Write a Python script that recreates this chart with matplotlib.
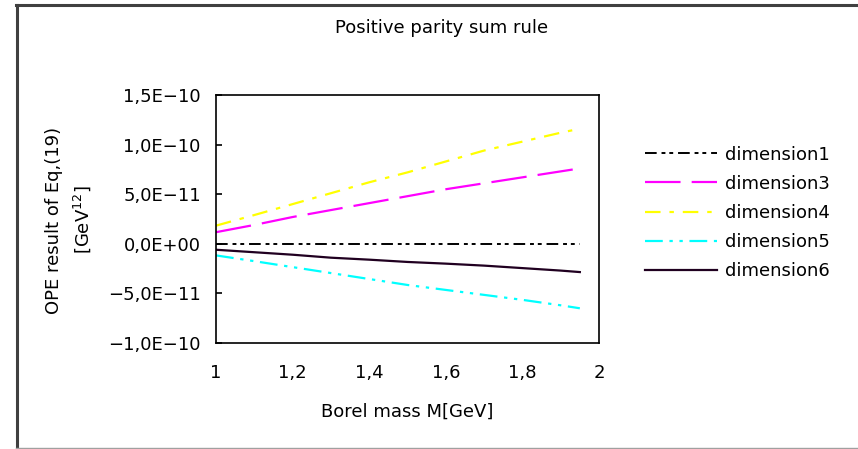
import numpy as np
import matplotlib
matplotlib.use("Agg")
import matplotlib.pyplot as plt
from matplotlib.lines import Line2D

# Borel mass [GeV]
borel_mass = [1.0, 1.1, 1.2, 1.3, 1.4, 1.5, 1.6, 1.7, 1.8, 1.9, 1.95]

# OPE contributions (in units of 1E-11 GeV^12)
dim1 = [0.0, 0.0, 0.0, 0.0, 0.0, 0.0, 0.0, 0.0, 0.0, 0.0, 0.0]
dim3 = [1.17, 1.9, 2.7, 3.4, 4.1, 4.8, 5.5, 6.1, 6.7, 7.3, 7.6]
dim4 = [1.83, 2.9, 4.0, 5.1, 6.2, 7.2, 8.3, 9.4, 10.3, 11.2, 11.6]
dim5 = [-1.17, -1.75, -2.35, -2.95, -3.55, -4.15, -4.65, -5.15, -5.65, -6.2, -6.5]
dim6 = [-0.6, -0.85, -1.1, -1.4, -1.6, -1.83, -2.0, -2.2, -2.45, -2.7, -2.85]

series_labels = ["dimension1", "dimension3", "dimension4", "dimension5", "dimension6"]

yticks = [1.5e-10, 1.0e-10, 5.0e-11, 0.0, -5.0e-11, -1.0e-10]
ytick_labels = ["1,5E\u221210", "1,0E\u221210", "5,0E\u221211", "0,0E+00", "\u22125,0E\u221211", "\u22121,0E\u221210"]
xticks = [1.0, 1.2, 1.4, 1.6, 1.8, 2.0]
xtick_labels = ["1", "1,2", "1,4", "1,6", "1,8", "2"]

plt.rcParams['font.family'] = ['DejaVu Sans']
fs = 13

fig = plt.figure(figsize=(8.58, 4.49), dpi=100)
ax = fig.add_axes([216/858, 1-343/449, 383/858, 248/449])

M = np.array(borel_mass)
scale = 1e-11
ax.plot(M, np.array(dim1)*scale, color='black', lw=1.4, dashes=(6, 2.5, 2, 2, 2, 2.5), label=series_labels[0])
ax.plot(M, np.array(dim3)*scale, color='#ff00ff', lw=1.6, dashes=(16, 5), label=series_labels[1])
ax.plot(M, np.array(dim4)*scale, color='#ffff00', lw=1.6, dashes=(7, 4, 2, 4), label=series_labels[2])
ax.plot(M, np.array(dim5)*scale, color='#00ffff', lw=1.6, dashes=(8, 3, 1.5, 3, 1.5, 3), label=series_labels[3])
ax.plot(M, np.array(dim6)*scale, color='#200020', lw=1.6, label=series_labels[4])

ax.set_xlim(1.0, 2.0)
ax.set_ylim(-1.0e-10, 1.5e-10)
ax.set_yticks(yticks)
ax.set_yticklabels(ytick_labels, fontsize=fs)
ax.set_xticks(xticks)
ax.set_xticklabels(xtick_labels, fontsize=fs)
ax.tick_params(axis='y', direction='in', length=4, width=1.2, pad=11)
ax.tick_params(axis='x', length=0, pad=15)
for sp in ax.spines.values():
    sp.set_linewidth(1.2)
ax.set_xlabel("Borel mass M[GeV]", fontsize=fs, labelpad=15)

fig.text(69/858, 1-220/449, "OPE result of Eq,(19)\n[GeV$^{12}$]", rotation=90,
         ha='center', va='center', multialignment='center', linespacing=1.45, fontsize=fs)
fig.text(442/858, 1-28/449, "Positive parity sum rule", ha='center', va='center', fontsize=fs)

fig.legend(loc='center left', bbox_to_anchor=(645/858, 1-213/449), frameon=False,
           fontsize=fs, handlelength=4.0, handletextpad=0.45, labelspacing=0.62,
           borderpad=0, borderaxespad=0)

# outer chart frame
fig.add_artist(Line2D([16.5/858, 16.5/858], [1-5/449, 0], color='#404040', lw=2.2))
fig.add_artist(Line2D([16/858, 1], [1-5/449, 1-5/449], color='#404040', lw=2.2))
fig.add_artist(Line2D([16/858, 1], [1-448/449, 1-448/449], color='#a0a0a0', lw=1))

fig.savefig("out.png", dpi=100)
